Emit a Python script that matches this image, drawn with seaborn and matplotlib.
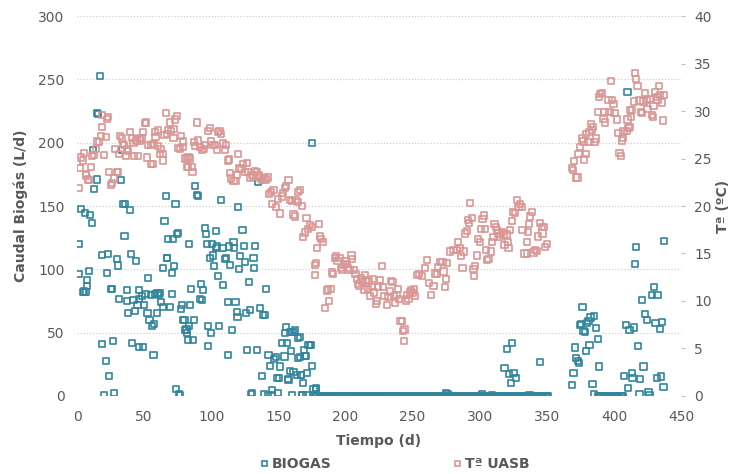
import matplotlib
matplotlib.use("Agg")
import matplotlib.pyplot as plt
import seaborn as sns
import pandas as pd
from matplotlib.lines import Line2D

# ---------------- data ----------------
temp_day = [1.3, 2.2, 3.2, 4.2, 5.2, 6.5, 6.7, 8.4, 9.2, 10.2, 11.4, 12.9, 14.2, 15.1, 16.6, 17.6, 18.4, 18.9,
            20.1, 21.4, 22.6, 23.0, 24.1, 25.1, 26.3, 27.6, 28.5, 29.6, 30.8, 31.1, 32.0, 33.3, 34.5, 35.0, 36.5,
            37.0, 38.2, 39.5, 40.7, 42.0, 42.7, 44.0, 44.5, 45.7, 46.9, 47.0, 48.2, 48.9, 50.7, 51.2, 52.4, 53.1,
            54.9, 55.0, 56.4, 56.9, 58.1, 58.5, 60.1, 60.6, 61.8, 62.5, 63.8, 64.3, 65.1, 66.1, 66.8, 68.0, 69.3,
            70.0, 71.8, 72.0, 73.0, 74.3, 75.5, 76.8, 77.5, 78.7, 79.0, 80.5, 81.7, 82.2, 82.7, 83.0, 84.2, 85.5,
            86.0, 87.0, 88.0, 89.2, 90.0, 91.5, 93.0, 94.5, 95.5, 97.6, 98.9, 100.0, 101.5, 103.0, 104.5, 105.0,
            106.2, 107.3, 108.5, 110.0, 111.0, 112.3, 113.0, 114.0, 115.0, 116.5, 118.0, 119.2, 120.2, 121.0,
            122.5, 123.8, 125.0, 126.5, 127.5, 129.0, 130.3, 131.5, 132.5, 134.0, 135.2, 136.5, 138.0, 139.0,
            140.5, 142.0, 143.0, 144.5, 145.0, 146.3, 148.0, 150.0, 151.3, 152.5, 153.7, 155.0, 155.7, 157.5,
            158.7, 160.0, 161.2, 162.4, 162.8, 164.4, 164.9, 166.2, 167.4, 168.6, 169.9, 171.0, 172.0, 173.5,
            175.0, 177.0, 177.5, 178.0, 179.0, 180.0, 181.0, 182.0, 183.0, 185.0, 186.0, 187.0, 188.0, 189.0,
            190.0, 190.8, 192.0, 193.0, 194.0, 195.5, 196.5, 197.5, 199.0, 200.0, 201.0, 202.0, 203.0, 204.5,
            205.0, 206.5, 207.5, 208.5, 209.5, 210.5, 211.5, 212.5, 213.5, 214.5, 215.5, 216.5, 217.5, 218.5,
            219.5, 220.5, 221.5, 222.5, 223.5, 224.5, 225.5, 227.0, 228.0, 229.0, 231.0, 232.0, 233.0, 234.0,
            235.0, 236.0, 237.0, 238.0, 239.0, 240.0, 241.0, 242.0, 243.0, 243.5, 244.0, 245.0, 246.0, 247.0,
            248.0, 249.0, 250.0, 251.0, 252.0, 253.0, 255.0, 257.0, 259.0, 260.6, 262.3, 263.8, 265.5, 266.7,
            268.0, 269.2, 270.5, 272.2, 273.0, 274.2, 274.7, 275.4, 278.0, 280.4, 282.9, 284.0, 285.4, 286.1,
            287.1, 287.9, 289.1, 290.4, 291.1, 292.1, 292.8, 294.1, 295.3, 295.8, 296.6, 297.8, 299.0, 300.3,
            301.0, 302.0, 303.3, 304.0, 304.8, 305.3, 306.5, 308.3, 309.0, 310.2, 311.0, 312.0, 312.7, 314.0,
            315.2, 316.5, 317.7, 318.4, 320.2, 320.9, 321.4, 322.7, 323.9, 324.6, 326.4, 327.6, 328.9, 330.1,
            331.4, 331.8, 333.3, 335.1, 335.4, 335.8, 336.8, 337.6, 338.8, 340.0, 341.3, 342.5, 343.7, 345.0,
            346.3, 346.7, 348.0, 348.7, 350.0,
            368.6, 369.5, 370.5, 371.6, 372.8, 373.6, 374.8, 376.1, 377.3, 377.8, 379.0, 379.3, 381.0, 381.7,
            382.8, 383.5, 384.3, 385.5, 386.7, 388.0, 389.0, 389.7, 391.0, 392.2, 393.0, 393.4, 395.9, 396.7,
            397.9, 398.4, 399.6, 400.4, 402.1, 403.4, 404.1, 405.1, 405.9, 406.6, 407.1, 409.6, 410.1, 410.9,
            411.6, 412.1, 412.8, 413.3, 415.1, 415.8, 416.5, 417.5, 419.0, 420.0, 420.8, 422.0, 423.3, 424.5,
            425.0, 426.5, 428.2, 429.0, 429.4, 430.7, 432.0, 432.4, 433.4, 434.4, 435.7, 436.4, 437.4]
temp_val = [21.9, 24.0, 25.1, 24.8, 25.6, 23.2, 23.4, 22.8, 22.7, 24.1, 25.3, 25.4, 26.0, 26.8, 26.7, 27.4, 29.6, 28.3,
            25.4, 27.3, 29.2, 29.4, 23.6, 22.2, 22.4, 22.9, 26.0, 23.6, 23.6, 25.5, 27.4, 27.1, 26.5, 26.4, 25.3,
            26.0, 25.8, 27.8, 27.2, 26.6, 25.3, 26.9, 27.0, 25.3, 26.9, 27.1, 27.2, 27.8, 28.7, 28.8, 25.1, 26.4,
            24.4, 26.4, 24.4, 26.5, 27.8, 27.3, 28.0, 26.3, 25.5, 26.0, 25.5, 24.8, 27.5, 29.8, 27.6, 28.0, 28.8,
            27.9, 27.2, 28.1, 29.1, 29.5, 26.1, 26.0, 27.4, 26.8, 26.2, 25.0, 25.0, 24.1, 24.1, 25.2, 25.0, 24.1,
            23.6, 26.7, 26.3, 28.8, 26.9, 26.2, 25.9, 26.0, 26.4, 27.9, 28.2, 26.8, 26.4, 26.4, 25.9, 27.8,
            27.9, 27.6, 26.6, 25.9, 26.4, 24.8, 24.9, 23.5, 22.9, 22.6, 22.6, 23.3, 25.5, 24.0,
            23.9, 24.4, 23.6, 24.5, 23.6, 23.0, 23.3, 23.1, 23.7, 23.6, 23.2, 23.0, 22.7, 22.9,
            22.8, 23.0, 21.3, 21.5, 20.2, 21.7, 19.9, 20.7, 19.2, 21.0, 21.4, 21.9, 22.1, 22.7,
            20.6, 20.5, 19.1, 18.9, 20.6, 20.4, 21.5, 21.7, 20.0, 16.7, 17.2, 18.7, 17.6, 18.0,
            17.8, 13.8, 12.7, 14.0, 15.6, 18.1, 16.8, 16.5, 16.2, 9.3, 11.1, 11.2, 10.0, 11.3,
            13.0, 12.8, 14.5, 14.7, 14.2, 14.5, 13.5, 13.3, 13.8, 14.2, 13.9, 13.5, 13.3, 14.8,
            14.4, 13.3, 12.8, 12.3, 11.8, 11.6, 12.4, 12.0, 11.2, 12.7, 12.2, 11.3, 12.1, 10.5,
            11.5, 12.3, 10.9, 9.7, 10.0, 11.5, 12.2, 13.7, 11.5, 10.5, 9.6, 10.4, 11.0, 12.1,
            12.0, 10.5, 9.8, 10.6, 11.3, 10.2, 7.9, 7.9, 6.8, 5.8, 7.0, 10.0, 10.6, 10.2,
            10.9, 11.1, 10.8, 11.3, 10.5, 12.7, 12.8, 12.6, 13.5, 14.3, 11.9, 10.6, 11.6, 12.9,
            12.8, 13.6, 14.1, 14.1, 13.1, 11.5, 12.3, 14.0, 15.2, 15.4, 15.4, 16.2, 15.6, 14.7,
            13.5, 15.2, 17.1, 17.4, 18.5, 18.2, 20.3, 18.7, 13.4, 12.6, 13.7, 14.8, 16.5, 16.2,
            17.6, 18.6, 19.0, 17.6, 15.4, 14.3, 14.4, 15.2, 16.2, 16.7, 18.1, 17.8, 17.5, 17.1,
            16.8, 17.3, 17.0, 15.9, 17.0, 16.2, 15.6, 17.5, 18.4, 19.4, 19.3, 20.6, 19.9, 20.2,
            19.9, 17.5, 15.0, 16.2, 15.0, 17.3, 18.1, 18.9, 19.4, 15.1, 15.4, 15.3, 16.8, 18.2,
            17.8, 17.1, 17.8, 15.7, 16.0,
            24.0, 23.8, 24.7, 23.0, 23.0, 25.5, 26.2, 27.1, 26.8, 24.9, 25.5, 27.6, 26.7, 27.8,
            28.6, 28.0, 28.3, 26.7, 27.1, 29.9, 31.5, 31.8, 31.9, 29.2, 29.9, 28.8, 31.2, 29.9,
            33.2, 31.2, 30.7, 29.8, 29.1, 27.7, 25.6, 25.3, 26.9, 27.2, 27.9, 27.9, 29.1, 28.2,
            28.3, 30.1, 29.4, 30.1, 31.0, 34.0, 33.4, 32.6, 31.1, 29.9, 29.8, 31.0, 31.9, 31.2,
            30.2, 31.3, 29.6, 29.4, 30.5, 32.0, 31.5, 31.2, 32.6, 31.7, 30.9, 29.0, 31.7]

bio_day = [1.2, 1.6, 3.0, 4.2, 5.2, 6.0, 6.7, 7.2, 7.7, 9.2, 9.7, 11.0, 12.2, 12.9, 14.7, 14.9, 15.9, 17.1,
           18.4, 18.9, 20.1, 21.4, 22.1, 22.9, 24.1, 25.3, 26.3, 27.1, 27.8, 29.6, 30.3, 31.3,
           32.5, 33.3, 34.0, 35.3, 35.8, 37.0, 37.5, 38.2, 39.5, 40.0, 40.7, 42.0, 43.0, 43.7, 45.0, 46.0,
           46.2, 46.4, 48.2, 48.9, 50.0, 51.0, 52.5, 53.1, 54.0, 55.0, 56.0, 56.9, 57.5, 58.0, 59.4, 60.0,
           61.0, 61.8, 62.5, 63.8, 64.3, 65.1, 66.1, 66.8, 67.3, 68.0, 69.0, 70.6, 70.9, 71.3, 72.0, 73.3,
           73.5, 74.3, 75.0, 76.0, 76.8, 77.5, 78.0, 78.7, 80.0, 80.5, 81.5, 82.0, 82.7, 83.2, 83.7, 84.2,
           85.0, 86.2, 87.0, 88.0, 89.2, 90.4, 91.9, 92.4, 93.1, 94.1, 95.4, 96.0, 96.6, 97.6, 97.8, 99.1,
           99.8, 100.5, 101.5, 102.1, 103.4, 103.8, 104.5, 105.3, 106.0, 107.0, 108.3, 109.0, 110.3, 111.0,
           112.3, 112.7, 113.5, 114.0, 115.3, 116.5, 117.2, 118.0, 119.0, 119.5, 119.7, 120.5, 121.5, 123.2,
           124.4, 124.9, 125.9, 126.9, 128.2, 128.9, 129.4, 130.2, 131.4, 132.1, 132.6, 133.9, 134.6, 136.4,
           137.6, 138.5, 139.3, 140.1, 140.8, 142.1, 142.6, 143.8, 145.0, 145.5, 146.5, 148.0, 148.8, 150.0,
           150.5, 151.3, 152.5, 154.5, 155.0, 155.8, 156.7, 157.0, 157.5, 158.7, 158.9, 159.2, 160.0, 160.2,
           161.2, 161.9, 162.4, 163.7, 164.4, 164.9, 166.2, 166.4, 166.6, 167.0, 167.4, 168.0, 168.6, 168.8,
           169.9, 170.6, 171.0, 171.6, 172.4, 173.6, 174.1, 174.9, 175.1, 176.1, 176.6, 177.8, 178.1,
           177, 178, 179, 180, 181, 182, 183, 184, 185, 186, 187, 188, 189, 190, 191, 192, 193, 194, 195, 196,
           197, 198, 199, 200, 201, 202, 203, 204, 205, 206, 207, 208, 209, 210, 211, 212, 213, 214, 215, 216,
           217, 218, 219, 220, 221, 222, 223, 224, 225, 226, 227, 228, 229, 230, 231, 232, 233, 234, 235, 236,
           237, 238, 239, 240, 241, 242, 243, 244, 245, 246, 247, 248, 249, 250, 251, 252, 253, 254, 255, 256,
           257, 258, 259, 260, 261, 262, 263, 264, 265, 266, 267, 268, 269, 270, 271, 272, 273, 274, 275, 276,
           277, 278, 279, 280, 281, 282, 283, 284, 285, 286, 287, 288, 289, 290, 291, 292, 293, 294, 295, 296,
           297, 298, 299, 300, 301, 302, 303, 304, 305, 306, 307, 308, 309, 310, 311, 312, 313, 314, 315, 316,
           317, 318, 319, 320, 321, 322, 323, 324, 325, 326, 327, 328, 329, 330, 331, 332, 333, 334, 335, 336,
           337, 338, 339, 340, 341, 342, 343, 344, 345, 346, 347, 348, 349, 350, 351,
           275.0, 276.0, 301.5, 309.0, 337.0,
           318.4, 320.2, 321.9, 323.2, 323.9, 325.1, 326.9, 345.0,
           368.9, 369.8, 370.9, 372.0, 373.0, 373.9, 374.8, 375.5, 376.5, 377.3, 378.5, 379.0, 379.8, 381.0,
           381.8, 382.5, 384.0, 385.0, 385.3, 386.7, 388.0, 389.0,
           388, 389, 390, 391, 392, 393, 394, 395, 396, 397, 398, 399, 400, 401, 402, 403, 404, 405, 406, 407,
           407.6, 409.0, 410.0, 410.3, 411.6, 413.3, 413.8, 415.1, 415.8, 416.6, 417.8, 419.0, 419.5, 420.9,
           422.0, 423.3, 424.5, 425.7, 426.5, 428.2, 430.0, 431.0, 432.0, 432.4, 434.0, 435.0, 436.0, 436.9,
           437.4]
bio_val = [96.0, 120.0, 147.6, 82.0, 82.5, 144.2, 82.0, 87.0, 91.6, 98.4, 142.9, 136.3, 194.2, 163.2, 171.0, 223.7, 222.4, 252.8,
           111.5, 40.8, 0.5, 27.6, 97.3, 112.0, 15.8, 84.2, 84.5, 43.4, 2.6, 108.4, 103.0, 76.6,
           170.5, 194.2, 151.6, 126.6, 151.6, 75.3, 83.7, 65.8, 146.8, 112.1, 42.0, 75.8, 67.4, 106.6, 71.8, 76.6,
           83.7, 38.4, 79.2, 38.9, 72.0, 80.5, 65.3, 93.4, 60.0, 79.5, 55.5, 32.1, 57.0, 80.4, 65.8, 81.0,
           79.5, 81.0, 74.0, 101.0, 70.5, 137.9, 157.9, 109.0, 108.9, 123.7, 70.0, 80.5, 97.3, 123.7, 102.6, 151.8,
           5.5, 127.9, 128.4, 1.6, 0.8, 68.7, 72.0, 60.0, 60.0, 52.0, 52.5, 50.0, 44.4, 55.0, 120.0, 71.8,
           84.5, 44.5, 60.0, 165.8, 158.6, 157.9, 76.6, 88.7, 75.8, 83.7, 132.6, 128.0, 120.0, 55.5, 39.7, 108.7,
           50.0, 120.0, 111.0, 102.9, 130.0, 117.0, 118.0, 94.7, 55.5, 154.7, 116.6, 87.9, 108.0, 109.0,
           74.5, 32.4, 118.0, 103.4, 52.1, 121.8, 117.1, 74.5, 66.0, 62.6, 149.0, 100.0, 110.8, 131.0,
           118.7, 106.0, 65.8, 36.3, 89.8, 67.9, 1.6, 2.1, 109.2, 101.3, 118.4, 36.3, 169.2, 69.5,
           15.8, 64.0, 1.3, 63.7, 84.7, 0.8, 32.4, 23.7, 0.8, 4.7, 29.0, 31.0, 14.0, 2.1,
           14.0, 23.2, 41.6, 31.1, 49.5, 54.7, 41.6, 13.7, 12.6, 50.8, 20.0, 35.8, 0.8, 50.8,
           19.2, 50.8, 51.8, 16.6, 45.5, 29.7, 46.8, 31.0, 16.6, 16.6, 0.8, 0.3, 10.5, 36.3,
           31.6, 31.6, 0.3, 18.4, 40.3, 40.3, 40.3, 199.5, 23.7, 5.5, 0.3, 5.5, 6.2,
           0, 0, 0, 0, 0, 0, 0, 0, 0, 0, 0, 0, 0, 0, 0, 0, 0, 0, 0, 0,
           0, 0, 0, 0, 0, 0, 0, 0, 0, 0, 0, 0, 0, 0, 0, 0, 0, 0, 0, 0,
           0, 0, 0, 0, 0, 0, 0, 0, 0, 0, 0, 0, 0, 0, 0, 0, 0, 0, 0, 0,
           0, 0, 0, 0, 0, 0, 0, 0, 0, 0, 0, 0, 0, 0, 0, 0, 0, 0, 0, 0,
           0, 0, 0, 0, 0, 0, 0, 0, 0, 0, 0, 0, 0, 0, 0, 0, 0, 0, 0, 0,
           0, 0, 0, 0, 0, 0, 0, 0, 0, 0, 0, 0, 0, 0, 0, 0, 0, 0, 0, 0,
           0, 0, 0, 0, 0, 0, 0, 0, 0, 0, 0, 0, 0, 0, 0, 0, 0, 0, 0, 0,
           0, 0, 0, 0, 0, 0, 0, 0, 0, 0, 0, 0, 0, 0, 0, 0, 0, 0, 0, 0,
           0, 0, 0, 0, 0, 0, 0, 0, 0, 0, 0, 0, 0, 0, 0,
           2.0, 1.5, 1.2, 1.0, 0.8,
           21.8, 36.8, 17.1, 10.0, 41.6, 18.4, 14.0, 26.6,
           8.7, 18.4, 38.2, 29.8, 27.5, 25.8, 56.0, 57.0, 70.5, 51.0, 50.8, 35.5, 57.5, 59.5,
           40.3, 62.0, 9.2, 63.0, 1.3, 53.7, 45.0, 23.2,
           0, 0, 0, 0, 0, 0, 0, 0, 0, 0, 0, 0, 0, 0, 0, 0, 0, 0, 0, 0,
           15.8, 56.0, 240.0, 6.1, 52.1, 18.4, 14.0, 54.0, 104.4, 117.9, 39.7, 1.3, 13.2, 75.8,
           23.2, 64.5, 60.0, 3.4, 0.3, 79.7, 85.8, 57.4, 14.0, 79.7, 52.9, 15.3, 58.7, 7.4,
           122.4]

x_ticks = [0, 50, 100, 150, 200, 250, 300, 350, 400, 450]
left_ticks = [0, 50, 100, 150, 200, 250, 300]
right_ticks = [0, 5, 10, 15, 20, 25, 30, 35, 40]

BLUE = "#31859C"
PINK = "#D99694"
GREY = "#595959"

df_t = pd.DataFrame({"day": temp_day, "val": temp_val})
df_b = pd.DataFrame({"day": bio_day, "val": bio_val})

sns.set_theme(style="white")
plt.rcParams["font.family"] = ["DejaVu Sans"]

fig = plt.figure(figsize=(7.30, 4.74), dpi=100)
ax = fig.add_axes([0.1055, 0.1646, 0.8275, 0.8016])
ax2 = ax.twinx()

sns.scatterplot(data=df_b, x="day", y="val", ax=ax, marker="s", s=20,
                facecolor="none", edgecolor=BLUE, linewidth=1.2, zorder=3, legend=False)
sns.scatterplot(data=df_t, x="day", y="val", ax=ax2, marker="s", s=20,
                facecolor="none", edgecolor=PINK, linewidth=1.2, zorder=3, legend=False)

ax.set_xlim(0, 450)
ax.set_ylim(0, 300)
ax2.set_ylim(0, 40)
ax.set_xticks(x_ticks)
ax.set_yticks(left_ticks)
ax2.set_yticks(right_ticks)

for a in (ax, ax2):
    for sp in a.spines.values():
        sp.set_visible(False)

ax.grid(False)
ax2.grid(False)
for yv in left_ticks[1:]:
    ax.axhline(yv, color="#D0D0D0", lw=0.9, ls=(0, (1, 1.5)), zorder=0)

ax.tick_params(axis="y", length=0, labelsize=10, labelcolor=GREY, pad=9)
ax.tick_params(axis="x", length=0, labelsize=10, labelcolor=GREY, pad=10)
ax2.tick_params(axis="y", length=3, width=0.8, color="#BFBFBF", labelsize=10,
                labelcolor=GREY, pad=6.5, direction="out")

ax.set_xlabel("Tiempo (d)", fontsize=10, fontweight="bold", color=GREY, labelpad=7)
ax.set_ylabel("Caudal Biogás (L/d)", fontsize=10, fontweight="bold", color=GREY, labelpad=7)
ax2.set_ylabel("Tª (ºC)", fontsize=10, fontweight="bold", color=GREY, rotation=90)
ax2.yaxis.set_label_coords(1.058, 0.5)

handles = [
    Line2D([], [], ls="none", marker="s", markersize=3.6, markerfacecolor="none",
           markeredgecolor=BLUE, markeredgewidth=1.2, label="BIOGAS"),
    Line2D([], [], ls="none", marker="s", markersize=3.6, markerfacecolor="none",
           markeredgecolor=PINK, markeredgewidth=1.2, label="Tª UASB"),
]
leg = fig.legend(handles=handles, loc="center", ncol=2, frameon=False,
                 bbox_to_anchor=(394 / 730, 1 - 464 / 474), columnspacing=8.6, handletextpad=0.2,
                 handlelength=0.8, borderpad=0, prop={"weight": "bold", "size": 10})
for t in leg.get_texts():
    t.set_color(GREY)

fig.savefig("out.png", dpi=100)
